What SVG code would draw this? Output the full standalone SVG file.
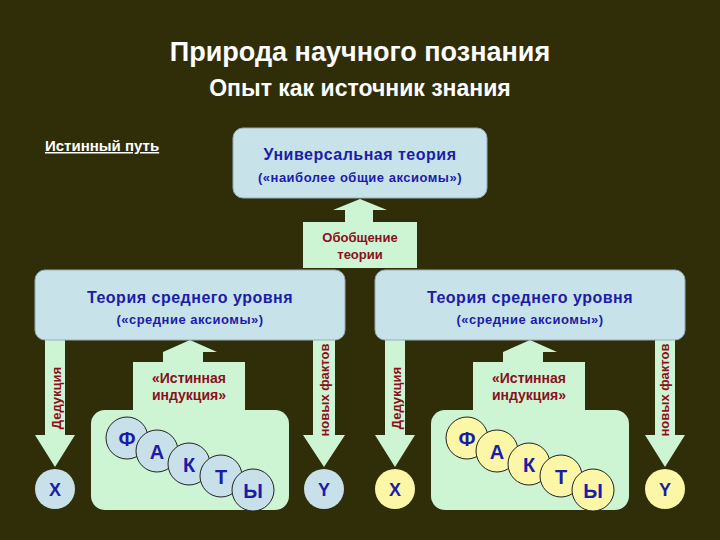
<svg xmlns="http://www.w3.org/2000/svg" width="720" height="540" viewBox="0 0 720 540">
<style>
text{font-family:"Liberation Sans",Arial,sans-serif;font-weight:bold}
.box{fill:#c8e2ea;stroke:#9ab;stroke-width:1}
.arr{fill:#cdf5d3}
.fb{fill:#cdf5d3}
.bl{fill:#1c1ca8}
.rd{fill:#8a1020}
.cb{fill:#c8e0ea;stroke:#222;stroke-width:1}
.cy{fill:#fbf7a6;stroke:#222;stroke-width:1}
.lt{font-size:20px;text-anchor:middle}
</style>
<rect width="720" height="540" fill="#2f2e08"/>
<text x="360" y="61" font-size="27" fill="#fff" text-anchor="middle">Природа научного познания</text>
<text x="360" y="96" font-size="23" fill="#fff" text-anchor="middle">Опыт как источник знания</text>
<text x="45" y="151" font-size="15" fill="#fff" text-decoration="underline">Истинный путь</text>
<g id="connectors">
<polygon class="arr" points="360,199 387,210 373,210 373,222 417,222 417,268 303,268 303,222 345,222 345,210 333,210"/>
<polygon class="arr" points="45,340 65,340 65,435 75,435 55,467 35,435 45,435"/>
<polygon class="arr" points="313,340 335,340 335,435 345,435 324,467 303,435 313,435"/>
<polygon class="arr" points="385,340 405,340 405,435 415,435 395,467 375,435 385,435"/>
<polygon class="arr" points="655,340 675,340 675,435 685,435 665,467 645,435 655,435"/>
<polygon class="arr" points="190,340 217,352 203,352 203,362 245,362 245,410 133,410 133,362 163,362 163,352"/>
<polygon class="arr" points="530,340 557,352 543,352 543,362 585,362 585,410 473,410 473,362 503,362 503,352"/>
<text x="360" y="242" font-size="13" class="rd" text-anchor="middle">Обобщение</text>
<text x="360" y="259" font-size="13" class="rd" text-anchor="middle">теории</text>
<text transform="translate(61,398) rotate(-90)" font-size="13" class="rd" text-anchor="middle">Дедукция</text>
<text transform="translate(329,390) rotate(-90)" font-size="13" class="rd" text-anchor="middle">новых фактов</text>
<text transform="translate(401,398) rotate(-90)" font-size="13" class="rd" text-anchor="middle">Дедукция</text>
<text transform="translate(669,390) rotate(-90)" font-size="13" class="rd" text-anchor="middle">новых фактов</text>
<text x="189" y="383" font-size="14" class="rd" text-anchor="middle">«Истинная</text>
<text x="189" y="400" font-size="14" class="rd" text-anchor="middle">индукция»</text>
<text x="529" y="383" font-size="14" class="rd" text-anchor="middle">«Истинная</text>
<text x="529" y="400" font-size="14" class="rd" text-anchor="middle">индукция»</text>
</g>
<g id="universal">
<rect class="box" x="233" y="128" width="254" height="70" rx="10"/>
<text x="360" y="160" font-size="16" class="bl" text-anchor="middle" letter-spacing="0.5">Универсальная теория</text>
<text x="360" y="182" font-size="13" class="bl" text-anchor="middle" letter-spacing="0.5">(«наиболее общие аксиомы»)</text>
</g>
<g id="mid-left">
<rect class="box" x="35" y="270" width="310" height="70" rx="10"/>
<text x="190" y="303" font-size="16" class="bl" text-anchor="middle" letter-spacing="0.5">Теория среднего уровня</text>
<text x="190" y="324" font-size="13" class="bl" text-anchor="middle" letter-spacing="0.5">(«средние аксиомы»)</text>
</g>
<g id="mid-right">
<rect class="box" x="375" y="270" width="310" height="70" rx="10"/>
<text x="530" y="303" font-size="16" class="bl" text-anchor="middle" letter-spacing="0.5">Теория среднего уровня</text>
<text x="530" y="324" font-size="13" class="bl" text-anchor="middle" letter-spacing="0.5">(«средние аксиомы»)</text>
</g>
<g id="facts-left">
<rect class="fb" x="91" y="410" width="198" height="100" rx="14"/>
<circle class="cb" cx="127" cy="438" r="21"/><text x="127" y="446" class="lt bl">Ф</text>
<circle class="cb" cx="157" cy="451" r="21"/><text x="157" y="459" class="lt bl">А</text>
<circle class="cb" cx="189" cy="464" r="21"/><text x="189" y="472" class="lt bl">К</text>
<circle class="cb" cx="221" cy="476" r="21"/><text x="221" y="484" class="lt bl">Т</text>
<circle class="cb" cx="253" cy="490" r="21"/><text x="253" y="498" class="lt bl">Ы</text>
</g>
<g id="facts-right">
<rect class="fb" x="431" y="410" width="198" height="100" rx="14"/>
<circle class="cy" cx="467" cy="438" r="21"/><text x="467" y="446" class="lt bl">Ф</text>
<circle class="cy" cx="497" cy="451" r="21"/><text x="497" y="459" class="lt bl">А</text>
<circle class="cy" cx="529" cy="464" r="21"/><text x="529" y="472" class="lt bl">К</text>
<circle class="cy" cx="561" cy="476" r="21"/><text x="561" y="484" class="lt bl">Т</text>
<circle class="cy" cx="593" cy="490" r="21"/><text x="593" y="498" class="lt bl">Ы</text>
</g>
<g id="x-left"><circle cx="55" cy="489" r="20" fill="#c8e0ea"/><text x="55" y="496" font-size="18" class="bl" text-anchor="middle">X</text></g>
<g id="y-left"><circle cx="324" cy="489" r="20" fill="#c8e0ea"/><text x="324" y="496" font-size="18" class="bl" text-anchor="middle">Y</text></g>
<g id="x-right"><circle cx="395" cy="489" r="20" fill="#fbf7a6"/><text x="395" y="496" font-size="18" class="bl" text-anchor="middle">X</text></g>
<g id="y-right"><circle cx="665" cy="489" r="20" fill="#fbf7a6"/><text x="665" y="496" font-size="18" class="bl" text-anchor="middle">Y</text></g>
</svg>
